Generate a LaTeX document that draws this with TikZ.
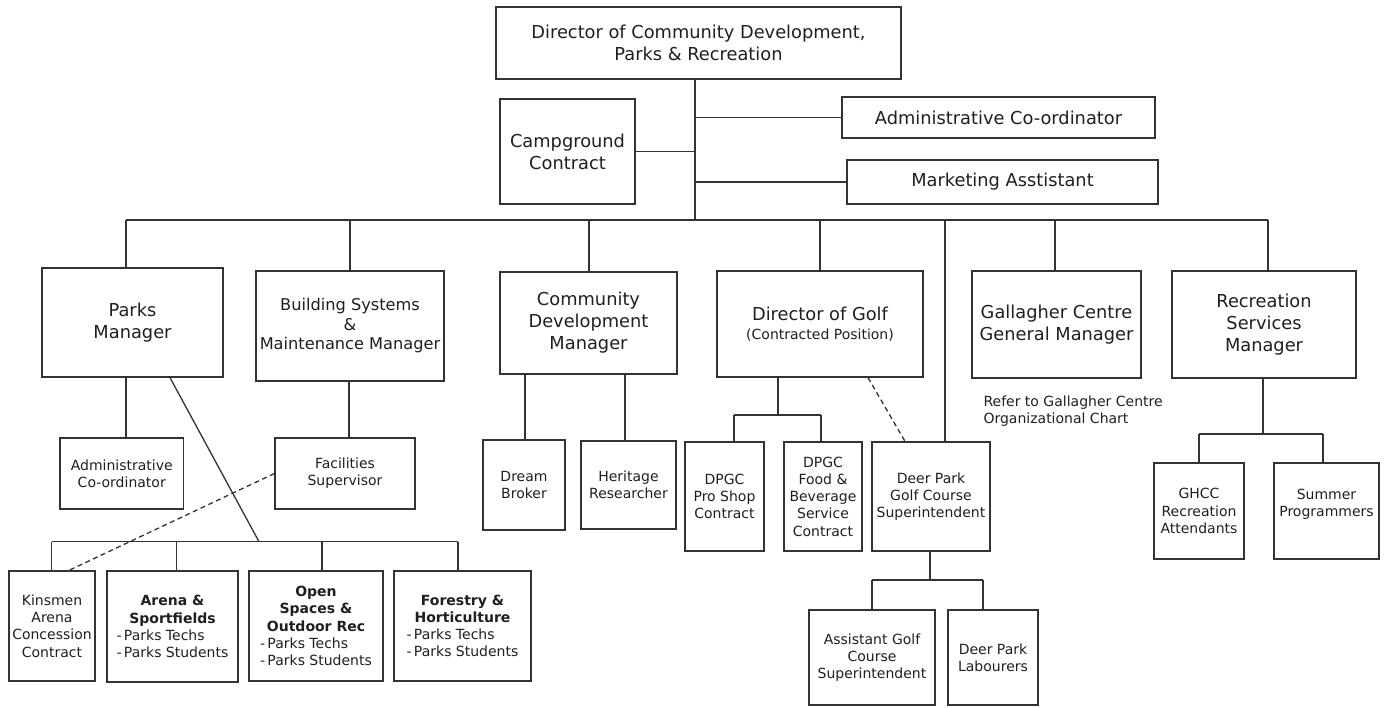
\documentclass[tikz,border=0pt]{standalone}
\usepackage{fontspec}
\setmainfont{DejaVu Sans}
\definecolor{lc}{gray}{0.2}
\definecolor{tc}{gray}{0.12}
\tikzset{
  box/.style={draw=lc, line width=1.3pt, inner sep=0pt, align=center, text=tc},
  big/.style={font=\fontsize{17.8}{22}\selectfont},
  small/.style={font=\fontsize{14}{17.2}\selectfont},
  conn/.style={draw=lc, line width=1.3pt},
  dconn/.style={conn, dash pattern=on 5pt off 3.5pt},
}
\newcommand{\pt}{\rlap{-\,Parks Techs}\phantom{-\,Parks Students}}
\newcommand{\ps}{-\,Parks Students}
\begin{document}
\begin{tikzpicture}[x=1pt,y=-1pt]
\useasboundingbox (0,0) rectangle (1387,707);
% top level
\node[box,big,minimum width=405pt,minimum height=72pt] (top) at (698.5,43) {Director of Community Development,\\Parks \& Recreation};
\node[box,big,minimum width=135pt,minimum height=105pt] (camp) at (567.5,151.5) {Campground\\Contract};
\node[box,big,minimum width=313pt,minimum height=41pt] (adm) at (998.5,117.5) {Administrative Co-ordinator};
\node[box,big,minimum width=311pt,minimum height=44pt] (mkt) at (1002.5,182) {Marketing Asstistant};
% managers
\node[box,big,minimum width=181pt,minimum height=109pt] (parks) at (132.5,322.5) {Parks\\Manager};
\node[box,font=\fontsize{16.2}{19.5}\selectfont,minimum width=188pt,minimum height=110pt] (bsm) at (350,326) {Building Systems\\\&\\Maintenance Manager};
\node[box,big,minimum width=177pt,minimum height=102pt] (cdm) at (588.5,323) {Community\\Development\\Manager};
\node[box,big,minimum width=206pt,minimum height=106pt] (dog) at (820,324) {Director of Golf\\[-3pt]{\fontsize{14}{17}\selectfont(Contracted Position)}};
\node[box,big,minimum width=169pt,minimum height=107pt] (gal) at (1056.5,324.5) {Gallagher Centre\\General Manager};
\node[box,big,minimum width=184pt,minimum height=107pt] (rsm) at (1264,324.5) {Recreation\\Services\\Manager};
\node[small,text=tc,align=left,anchor=west] (note) at (980,411) {Refer to Gallagher Centre\\Organizational Chart};
% second level
\node[box,small,minimum width=123.5pt,minimum height=71pt] (adm2) at (121.75,473.5) {Administrative\\Co-ordinator};
\node[box,small,minimum width=140pt,minimum height=71pt] (fac) at (345,473.5) {Facilities\\Supervisor};
\node[box,small,minimum width=82pt,minimum height=90pt] (dream) at (524,485) {Dream\\Broker};
\node[box,small,minimum width=95pt,minimum height=88pt] (her) at (628.5,485) {Heritage\\Researcher};
\node[box,small,minimum width=79pt,minimum height=109pt] (pro) at (724.5,496.5) {DPGC\\Pro Shop\\Contract};
\node[box,small,minimum width=78pt,minimum height=109pt] (food) at (823,496.5) {DPGC\\Food \&\\Beverage\\Service\\Contract};
\node[box,small,minimum width=118pt,minimum height=109pt] (dpgcs) at (931,496.5) {Deer Park\\Golf Course\\Superintendent};
\node[box,small,minimum width=90pt,minimum height=96pt] (ghcc) at (1199,511) {GHCC\\Recreation\\Attendants};
\node[box,small,minimum width=105pt,minimum height=96pt] (sum) at (1326.5,511) {Summer\\Programmers\\\mbox{}};
% third level
\node[box,small,minimum width=86pt,minimum height=110pt] (kin) at (52,626) {Kinsmen\\Arena\\Concession\\Contract};
\node[box,small,minimum width=131pt,minimum height=111pt] (arena) at (172.5,626.5) {\textbf{Arena \&}\\\textbf{Sportfields}\\\pt\\\ps};
\node[box,small,minimum width=134pt,minimum height=110pt] (open) at (316,626) {\textbf{Open}\\\textbf{Spaces \&}\\\textbf{Outdoor Rec}\\\pt\\\ps};
\node[box,small,minimum width=137pt,minimum height=110pt] (forest) at (462.5,626) {\textbf{Forestry \&}\\\textbf{Horticulture}\\\pt\\\ps};
\node[box,small,minimum width=126pt,minimum height=95pt] (asst) at (872,657.5) {Assistant Golf\\Course\\Superintendent};
\node[box,small,minimum width=90pt,minimum height=95pt] (lab) at (993,657.5) {Deer Park\\Labourers};
% coordinates
\coordinate (trunk) at (695,220);
\coordinate (d1) at (126,220);
\coordinate (d2) at (350,220);
\coordinate (d3) at (589,220);
\coordinate (d4) at (820,220);
\coordinate (d5) at (945,220);
\coordinate (d6) at (1055,220);
\coordinate (d7) at (1268,220);
% top connectors
\draw[conn] (top.south -| trunk) -- (trunk);
\draw[conn] (camp.east) -- (camp.east -| trunk);
\draw[conn] (adm.west -| trunk) -- (adm.west);
\draw[conn] (mkt.west -| trunk) -- (mkt.west);
\draw[conn] (d1) -- (d7);
\draw[conn] (d1) -- (d1 |- parks.north);
\draw[conn] (d2) -- (d2 |- bsm.north);
\draw[conn] (d3) -- (d3 |- cdm.north);
\draw[conn] (d4) -- (d4 |- dog.north);
\draw[conn] (d5) -- (d5 |- dpgcs.north);
\draw[conn] (d6) -- (d6 |- gal.north);
\draw[conn] (d7) -- (d7 |- rsm.north);
% parks
\draw[conn] (parks.south -| d1) -- (adm2.north -| d1);
\coordinate (pd) at (170,377);
\coordinate (lb) at (259,541.7);
\coordinate (lbL) at (51.7,541.7);
\coordinate (lbA) at (176.7,541.7);
\coordinate (lbO) at (322,541.7);
\coordinate (lbR) at (458,541.7);
\draw[conn] (parks.south -| pd) -- (lb);
\draw[conn] (lbL) -- (lbR);
\draw[conn] (lbL) -- (lbL |- kin.north);
\draw[conn] (lbA) -- (lbA |- arena.north);
\draw[conn] (lbO) -- (lbO |- open.north);
\draw[conn] (lbR) -- (lbR |- forest.north);
% building systems
\coordinate (f1) at (349,381);
\draw[conn] (bsm.south -| f1) -- (fac.north -| f1);
\coordinate (kd) at (69,572);
\draw[dconn] (fac.west) -- (kin.north -| kd);
% community development
\coordinate (c1) at (525,374);
\coordinate (c2) at (625,374);
\draw[conn] (cdm.south -| c1) -- (dream.north -| c1);
\draw[conn] (cdm.south -| c2) -- (her.north -| c2);
% golf
\coordinate (g0) at (778,415);
\coordinate (g1) at (734,415);
\coordinate (g2) at (821,415);
\draw[conn] (dog.south -| g0) -- (g0);
\draw[conn] (g1) -- (g2);
\draw[conn] (g1) -- (g1 |- pro.north);
\draw[conn] (g2) -- (g2 |- food.north);
\coordinate (gd1) at (868,377);
\coordinate (gd2) at (905,442);
\draw[dconn] (dog.south -| gd1) -- (dpgcs.north -| gd2);
\coordinate (s0) at (930,580);
\coordinate (s1) at (872,580);
\coordinate (s2) at (983,580);
\draw[conn] (dpgcs.south -| s0) -- (s0);
\draw[conn] (s1) -- (s2);
\draw[conn] (s1) -- (s1 |- asst.north);
\draw[conn] (s2) -- (s2 |- lab.north);
% recreation
\coordinate (r0) at (1263,434);
\coordinate (r1) at (1199,434);
\coordinate (r2) at (1323,434);
\draw[conn] (rsm.south -| r0) -- (r0);
\draw[conn] (r1) -- (r2);
\draw[conn] (r1) -- (r1 |- ghcc.north);
\draw[conn] (r2) -- (r2 |- sum.north);
\end{tikzpicture}
\end{document}
